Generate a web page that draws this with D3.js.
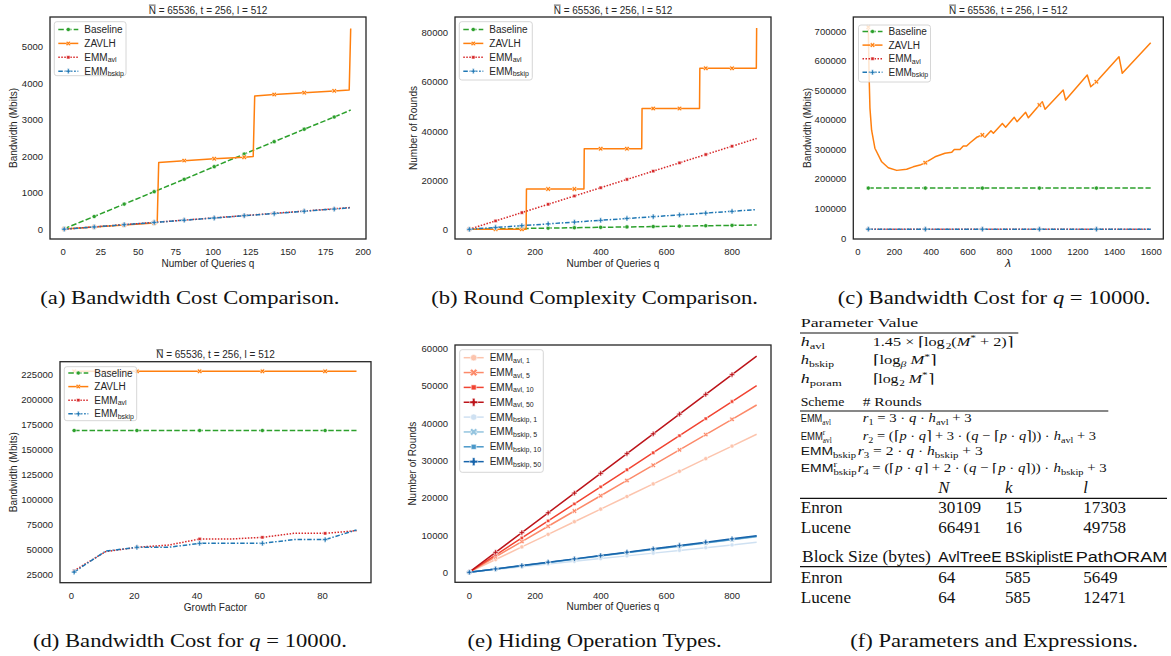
<!DOCTYPE html>
<html>
<head>
<meta charset="utf-8">
<script src="https://cdn.jsdelivr.net/npm/d3@7"></script>
<style>
  body { margin: 0; background: #fff; }
</style>
</head>
<body>
<svg id="fig" width="1171" height="656"></svg>
<script>
// ---- (a) bandwidth vs number of queries
const qA = [1, 21, 41, 61, 81, 101, 121, 141, 161, 181, 192];
const baselineA = [17, 350, 690, 1030, 1370, 1715, 2060, 2400, 2740, 3075, 3265];
const emmAvlA = [3, 65, 127, 189, 251, 313, 375, 437, 499, 561, 597];
const emmBskipA = [3, 63, 125, 186, 248, 309, 371, 432, 494, 555, 590];
const zavlhQA = [1, 21, 41, 61, 63, 64, 81, 101, 121, 127, 128, 141, 161, 181, 191, 192];
const zavlhA = [5, 60, 115, 170, 178, 1830, 1880, 1930, 1975, 1995, 3650, 3690, 3740, 3790, 3815, 5500];
const markA = [1, 21, 41, 61, 81, 101, 121, 141, 161, 181];

// ---- (b) rounds vs number of queries
const qB = [1, 81, 161, 241, 321, 401, 481, 561, 641, 721, 801, 876];
const baselineB = [2, 162, 322, 482, 642, 802, 962, 1122, 1282, 1442, 1602, 1752];
const emmAvlB = [42, 3420, 6795, 10170, 13550, 16920, 20300, 23670, 27050, 30430, 33800, 36970];
const emmBskipB = [9, 740, 1475, 2205, 2940, 3670, 4400, 5135, 5865, 6600, 7330, 8020];
const zavlhQB = [1, 81, 161, 174, 175, 241, 321, 350, 351, 401, 481, 526, 527, 561, 641, 702, 703, 721, 801, 875, 876];
const zavlhB = [0, 0, 0, 0, 16384, 16384, 16384, 16384, 32768, 32768, 32768, 32768, 49152, 49152, 49152, 49152, 65536, 65536, 65536, 65536, 81920];
const markB = [1, 81, 161, 241, 321, 401, 481, 561, 641, 721, 801];

// ---- (c) bandwidth vs lambda
const lamC = [60, 371, 682, 993, 1304, 1600];
const baselineC = [169000, 169000, 169000, 169000, 169000, 169000];
const emmAvlC = [29800, 29800, 29800, 29800, 29800, 29800];
const emmBskipC = [29800, 29800, 29800, 29800, 29800, 29800];
const lamZC = [60, 62, 64, 69, 78, 96, 133, 169, 215, 269, 305, 342, 371, 424, 478, 515, 529, 560, 578, 596,
  615, 651, 682, 696, 729, 742, 791, 809, 856, 871, 918, 933, 993, 1009, 1024, 1123, 1136, 1254, 1273, 1304,
  1427, 1445, 1600];
const zavlhC = [714000, 640000, 560000, 440000, 365000, 304000, 258000, 238000, 229000, 233000, 241000, 247000,
  255000, 275000, 287000, 290000, 300000, 300000, 311500, 311500, 322700, 341000, 349000, 341000, 363000, 354500,
  388000, 375000, 408700, 394000, 425700, 407000, 450400, 461600, 435800, 501000, 467000, 552000, 512000, 529000,
  614000, 557700, 661000];
const markC = [60, 371, 682, 993, 1304];

// ---- (d) bandwidth vs growth factor
const gfD = [1, 11, 21, 31, 41, 51, 61, 71, 81, 91];
const baselineD = [169000, 169000, 169000, 169000, 169000, 169000, 169000, 169000, 169000, 169000];
const zavlhD = [228400, 228400, 228400, 228400, 228400, 228400, 228400, 228400, 228400, 228400];
const emmAvlD = [28300, 47400, 51800, 54000, 60100, 60100, 61800, 65800, 65800, 68500];
const emmBskipD = [27000, 47900, 51800, 51800, 55800, 55800, 55800, 59500, 59500, 69200];
const markD = [1, 21, 41, 61, 81];

// ---- (e) hiding operation types
const qE = [1, 81, 161, 241, 321, 401, 481, 561, 641, 721, 801, 876];
const avl1E = [42, 3420, 6795, 10170, 13550, 16920, 20300, 23670, 27050, 30430, 33800, 36970];
const avl5E = [51, 4140, 8235, 12330, 16420, 20510, 24600, 28700, 32790, 36880, 40970, 44810];
const avl10E = [57, 4625, 9195, 13760, 18330, 22900, 27465, 32030, 36600, 41170, 45740, 50020];
const avl50E = [66, 5355, 10640, 15930, 21220, 26510, 31790, 37080, 42370, 47660, 52950, 57900];
const bskip1E = [9, 740, 1475, 2205, 2940, 3670, 4400, 5135, 5865, 6600, 7330, 8020];
const bskip5E = [11, 880, 1745, 2615, 3485, 4350, 5220, 6085, 6955, 7820, 8690, 9505];
const bskip10E = [11, 890, 1770, 2650, 3530, 4410, 5290, 6170, 7050, 7930, 8810, 9640];
const bskip50E = [11, 905, 1800, 2700, 3595, 4490, 5385, 6280, 7180, 8075, 8970, 9810];
const markE = [1, 81, 161, 241, 321, 401, 481, 561, 641, 721, 801];

// ---- tick labels
const xTicksA = [0, 25, 50, 75, 100, 125, 150, 175, 200];
const yTicksA = [0, 1000, 2000, 3000, 4000, 5000];
const xTicksB = [0, 200, 400, 600, 800];
const yTicksB = [0, 20000, 40000, 60000, 80000];
const xTicksC = [0, 200, 400, 600, 800, 1000, 1200, 1400, 1600];
const yTicksC = [0, 100000, 200000, 300000, 400000, 500000, 600000, 700000];
const xTicksD = [0, 20, 40, 60, 80];
const yTicksD = [25000, 50000, 75000, 100000, 125000, 150000, 175000, 200000, 225000];
const yTicksE = [0, 10000, 20000, 30000, 40000, 50000, 60000];

// ---- table (f) text
const paramHeader = [["Parameter Value", "rm"]];
const paramRows = [
  [[["h", "it"], ["avl", "sub"]],
   [["1.45 × ⌈log", "rm"], ["2", "sub"], ["(", "rm"], ["M", "it"], ["*", "sup"], [" + 2)⌉", "rm"]]],
  [[["h", "it"], ["bskip", "sub"]],
   [["⌈log", "rm"], ["β", "subit"], [" ", "rm"], ["M", "it"], ["*", "sup"], ["⌉", "rm"]]],
  [[["h", "it"], ["poram", "sub"]],
   [["⌈log", "rm"], ["2", "sub"], [" ", "rm"], ["M", "it"], ["*", "sup"], ["⌉", "rm"]]]
];
const schemeHeader = [[["Scheme", "rm"]], [["# Rounds", "rm"]]];
const schemeRows = [
  [[["EMM", "sf"], ["avl", "sub"]],
   [["r", "it"], ["1", "sub"], [" = 3 · ", "rm"], ["q", "it"], [" · ", "rm"], ["h", "it"], ["avl", "sub"], [" + 3", "rm"]]],
  [[["EMM", "sf"], ["r|avl", "supsub"]],
   [["r", "it"], ["2", "sub"], [" = (⌈", "rm"], ["p", "it"], [" · ", "rm"], ["q", "it"], ["⌉ + 3 · (", "rm"], ["q", "it"],
    [" − ⌈", "rm"], ["p", "it"], [" · ", "rm"], ["q", "it"], ["⌉)) · ", "rm"], ["h", "it"], ["avl", "sub"], [" + 3", "rm"]]],
  [[["EMM", "sf"], ["bskip", "sub"]],
   [["r", "it"], ["3", "sub"], [" = 2 · ", "rm"], ["q", "it"], [" · ", "rm"], ["h", "it"], ["bskip", "sub"], [" + 3", "rm"]]],
  [[["EMM", "sf"], ["r|bskip", "supsub"]],
   [["r", "it"], ["4", "sub"], [" = (⌈", "rm"], ["p", "it"], [" · ", "rm"], ["q", "it"], ["⌉ + 2 · (", "rm"], ["q", "it"],
    [" − ⌈", "rm"], ["p", "it"], [" · ", "rm"], ["q", "it"], ["⌉)) · ", "rm"], ["h", "it"], ["bskip", "sub"], [" + 3", "rm"]]]
];
const datasetHeader = ["N", "k", "l"];
const datasetRows = [["Enron", "30109", "15", "17303"], ["Lucene", "66491", "16", "49758"]];
const blockHeader = ["Block Size (bytes)", "AvlTreeE", "BSkiplistE", "PathORAM"];
const blockRows = [["Enron", "64", "585", "5649"], ["Lucene", "64", "585", "12471"]];

const captions = [
  [["(a) Bandwidth Cost Comparison.", "rm"]],
  [["(b) Round Complexity Comparison.", "rm"]],
  [["(c) Bandwidth Cost for ", "rm"], ["q", "it"], [" = 10000.", "rm"]],
  [["(d) Bandwidth Cost for ", "rm"], ["q", "it"], [" = 10000.", "rm"]],
  [["(e) Hiding Operation Types.", "rm"]],
  [["(f) Parameters and Expressions.", "rm"]]
];

// ---------------------------------------------------------------
const svg = d3.select("#fig");
const sans = "'Liberation Sans', Arial, sans-serif";
const serif = "'Liberation Serif', 'Times New Roman', serif";
const ink = "#262626";

const look = {
  Baseline: { color: "#2ca02c", dash: "5.5,2.2", marker: "circle" },
  ZAVLH: { color: "#ff7f0e", dash: null, marker: "x" },
  EMMavl: { color: "#d62728", dash: "1.5,1.5", marker: "square" },
  EMMbskip: { color: "#1f77b4", dash: "4.5,1.8,1.5,1.8", marker: "plus" }
};
const reds = ["#fcc4ad", "#fc8a6a", "#f14432", "#bc141a"];
const blues = ["#cfe1f2", "#94c4df", "#4a98c9", "#1764ab"];
const eMarkers = ["circle", "x", "square", "plus"];

function markerPath(kind, size) {
  let type = d3.symbolCircle;
  if (kind === "square") type = d3.symbolSquare;
  if (kind === "x" || kind === "plus") type = d3.symbolCross;
  let s = size;
  if (kind === "square") s = size * 0.8;
  if (kind === "x" || kind === "plus") s = size * 1.1;
  return d3.symbol(type, s)();
}

// rich text: segments laid out one by one, then stretched horizontally
function rich(parent, segs, x, y, fs, opts = {}) {
  const g = parent.append("g");
  let cx = 0;
  const place = (t, st, px) => {
    const small = st === "sub" || st === "subit" || st === "sup";
    const dy = (st === "sub" || st === "subit") ? 0.25 * fs : st === "sup" ? -0.38 * fs : 0;
    const node = g.append("text")
      .attr("x", px)
      .attr("y", dy)
      .attr("font-size", small ? fs * 0.7 : (st === "sf" ? fs * 0.92 : fs))
      .attr("font-family", (st === "sf" || opts.sans) ? sans : serif)
      .attr("font-style", (st === "it" || st === "subit") ? "italic" : "normal")
      .attr("fill", opts.fill || "#111")
      .attr("dominant-baseline", opts.central ? "central" : "auto")
      .style("white-space", "pre")
      .text(t);
    return node.node().getComputedTextLength();
  };
  segs.forEach(([t, st]) => {
    if (st === "supsub") {
      const [a, b] = t.split("|");
      cx += Math.max(place(a, "sup", cx), place(b, "sub", cx));
    } else {
      cx += place(t, st, cx);
    }
  });
  const sx = opts.w ? opts.w / cx : (opts.sx || 1);
  const tx = opts.anchor === "middle" ? x - (cx * sx) / 2 : x;
  g.attr("transform", `translate(${tx},${y}) scale(${sx},1)`);
  return { g, width: cx, sx };
}

function drawChart(cfg) {
  const [left, top, right, bottom] = cfg.frame;
  const x = d3.scaleLinear().domain(cfg.xDomain).range([left, right]);
  const y = d3.scaleLinear().domain(cfg.yDomain).range([bottom, top]);
  const g = svg.append("g");

  g.append("clipPath").attr("id", "clip-" + cfg.id)
    .append("rect").attr("x", left).attr("y", top).attr("width", right - left).attr("height", bottom - top);

  const xAxis = g.append("g")
    .attr("transform", `translate(0,${bottom})`)
    .call(d3.axisBottom(x).tickValues(cfg.xTicks).tickSize(0).tickPadding(9.5).tickFormat(d3.format("d")));
  const yAxis = g.append("g")
    .attr("transform", `translate(${left},0)`)
    .call(d3.axisLeft(y).tickValues(cfg.yTicks).tickSize(0).tickPadding(7).tickFormat(d3.format("d")));
  [xAxis, yAxis].forEach(a => {
    a.select(".domain").remove();
    a.selectAll("text").attr("font-family", sans).attr("font-size", 9.5).attr("fill", ink);
  });

  g.append("text")
    .attr("x", (left + right) / 2)
    .attr("y", bottom + 28)
    .attr("text-anchor", "middle")
    .attr("font-family", cfg.xItalic ? "'DejaVu Sans', sans-serif" : sans)
    .attr("font-style", cfg.xItalic ? "italic" : "normal")
    .attr("font-size", cfg.xItalic ? 11 : 10)
    .attr("fill", ink)
    .text(cfg.xLabel);

  g.append("text")
    .attr("transform", `translate(${cfg.yLabelX},${(top + bottom) / 2}) rotate(-90)`)
    .attr("text-anchor", "middle")
    .attr("dominant-baseline", "central")
    .attr("font-family", sans)
    .attr("font-size", 10)
    .attr("fill", ink)
    .text(cfg.yLabel);

  if (cfg.title) {
    const t = g.append("text")
      .attr("x", (left + right) / 2)
      .attr("y", top - 3.5)
      .attr("text-anchor", "middle")
      .attr("font-family", sans)
      .attr("font-size", 10)
      .attr("fill", ink)
      .text(cfg.title);
    const ext = t.node().getExtentOfChar(0);
    g.append("line")
      .attr("x1", ext.x + 0.3).attr("x2", ext.x + ext.width - 0.3)
      .attr("y1", ext.y + 0.6).attr("y2", ext.y + 0.6)
      .attr("stroke", ink).attr("stroke-width", 0.8);
  }

  const plot = g.append("g").attr("clip-path", `url(#clip-${cfg.id})`);
  const line = d3.line().x(d => x(d[0])).y(d => y(d[1]));

  cfg.series.forEach(s => {
    const pts = s.x.map((v, i) => [v, s.y[i]]);
    plot.append("path")
      .datum(pts)
      .attr("d", line)
      .attr("fill", "none")
      .attr("stroke", s.color)
      .attr("stroke-width", 1.5)
      .attr("stroke-dasharray", s.dash)
      .attr("stroke-linejoin", "round");
    plot.selectAll(null)
      .data(pts.filter(p => cfg.mark.includes(p[0])))
      .join("path")
      .attr("transform", p => `translate(${x(p[0])},${y(p[1])})` + (s.marker === "x" ? " rotate(45)" : ""))
      .attr("d", markerPath(s.marker, cfg.markSize))
      .attr("fill", s.color)
      .attr("stroke", "#fff")
      .attr("stroke-width", 0.6);
  });

  g.append("rect")
    .attr("x", left).attr("y", top)
    .attr("width", right - left).attr("height", bottom - top)
    .attr("fill", "none")
    .attr("stroke", ink)
    .attr("stroke-width", 1.3);

  // legend
  const L = cfg.legend;
  const lg = g.append("g");
  lg.append("rect")
    .attr("x", L.x).attr("y", L.y).attr("width", L.w).attr("height", L.h)
    .attr("rx", 2.5)
    .attr("fill", "#fff").attr("fill-opacity", 0.8)
    .attr("stroke", "#cccccc").attr("stroke-width", 0.8);
  cfg.series.forEach((s, i) => {
    const ry = L.row0 + i * L.dy;
    lg.append("line")
      .attr("x1", L.x + 4).attr("x2", L.x + 24)
      .attr("y1", ry).attr("y2", ry)
      .attr("stroke", s.color)
      .attr("stroke-width", 1.5)
      .attr("stroke-dasharray", s.dash);
    lg.append("path")
      .attr("transform", `translate(${L.x + 14},${ry})` + (s.marker === "x" ? " rotate(45)" : ""))
      .attr("d", markerPath(s.marker, L.markSize))
      .attr("fill", s.color)
      .attr("stroke", "#fff")
      .attr("stroke-width", 0.6);
    rich(lg, s.label, L.x + 30, ry, 10, { sans: true, central: true, fill: ink });
  });
}

const std = (xs, ys, name, label) => Object.assign({ x: xs, y: ys, label }, look[name]);
const lblBase = [["Baseline", "rm"]];
const lblZ = [["ZAVLH", "rm"]];
const lblAvl = [["EMM", "rm"], ["avl", "sub"]];
const lblBskip = [["EMM", "rm"], ["bskip", "sub"]];

drawChart({
  id: "a", frame: [50, 17, 366, 239], xDomain: [-8.47, 202.2], yDomain: [-266, 5813],
  xTicks: xTicksA, yTicks: yTicksA, xLabel: "Number of Queries q", yLabel: "Bandwidth (Mbits)",
  yLabelX: 13.3, title: "N = 65536, t = 256, l = 512", mark: markA, markSize: 14,
  series: [std(qA, baselineA, "Baseline", lblBase), std(zavlhQA, zavlhA, "ZAVLH", lblZ),
    std(qA, emmAvlA, "EMMavl", lblAvl), std(qA, emmBskipA, "EMMbskip", lblBskip)],
  legend: { x: 54.3, y: 21.7, w: 71.7, h: 54, row0: 29.5, dy: 13.9, markSize: 14 }
});

drawChart({
  id: "b", frame: [455, 17, 771, 239], xDomain: [-42.6, 919.7], yDomain: [-3947, 86388],
  xTicks: xTicksB, yTicks: yTicksB, xLabel: "Number of Queries q", yLabel: "Number of Rounds",
  yLabelX: 413, title: "N = 65536, t = 256, l = 512", mark: markB, markSize: 14,
  series: [std(qB, baselineB, "Baseline", lblBase), std(zavlhQB, zavlhB, "ZAVLH", lblZ),
    std(qB, emmAvlB, "EMMavl", lblAvl), std(qB, emmBskipB, "EMMbskip", lblBskip)],
  legend: { x: 459.3, y: 21.7, w: 73, h: 58.3, row0: 29.5, dy: 13.9, markSize: 14 }
});

drawChart({
  id: "c", frame: [853.3, 17, 1163.3, 239], xDomain: [-21.8, 1668.7], yDomain: [-3386, 748417],
  xTicks: xTicksC, yTicks: yTicksC, xLabel: "λ", xItalic: true, yLabel: "Bandwidth (Mbits)",
  yLabelX: 807.3, title: "N = 65536, t = 256, l = 512", mark: markC, markSize: 14,
  series: [std(lamC, baselineC, "Baseline", lblBase), std(lamZC, zavlhC, "ZAVLH", lblZ),
    std(lamC, emmAvlC, "EMMavl", lblAvl), std(lamC, emmBskipC, "EMMbskip", lblBskip)],
  legend: { x: 858.5, y: 25, w: 72, h: 57, row0: 31.5, dy: 13.6, markSize: 14 }
});

drawChart({
  id: "d", frame: [60, 361.7, 371, 582.7], xDomain: [-3.506, 95.62], yDomain: [16269, 238045],
  xTicks: xTicksD, yTicks: yTicksD, xLabel: "Growth Factor", yLabel: "Bandwidth (Mbits)",
  yLabelX: 13.3, title: "N = 65536, t = 256, l = 512", mark: markD, markSize: 14,
  series: [std(gfD, baselineD, "Baseline", lblBase), std(gfD, zavlhD, "ZAVLH", lblZ),
    std(gfD, emmAvlD, "EMMavl", lblAvl), std(gfD, emmBskipD, "EMMbskip", lblBskip)],
  legend: { x: 64.3, y: 366.7, w: 72.4, h: 54, row0: 373, dy: 13.6, markSize: 14 }
});

const eSeries = [avl1E, avl5E, avl10E, avl50E, bskip1E, bskip5E, bskip10E, bskip50E].map((ys, i) => ({
  x: qE, y: ys, dash: null,
  color: i < 4 ? reds[i] : blues[i - 4],
  marker: eMarkers[i % 4],
  label: [["EMM", "rm"], [(i < 4 ? "avl, " : "bskip, ") + ["1", "5", "10", "50"][i % 4], "sub"]]
}));
drawChart({
  id: "e", frame: [455, 345, 771, 582.3], xDomain: [-42.6, 919.7], yDomain: [-2679, 60884],
  xTicks: xTicksB, yTicks: yTicksE, xLabel: "Number of Queries q", yLabel: "Number of Rounds",
  yLabelX: 412.3, title: null, mark: markE, markSize: 14, series: eSeries,
  legend: { x: 459.7, y: 349.7, w: 83.6, h: 122.6, row0: 357.7, dy: 14.85, markSize: 32 }
});

// ---------------- table (f)
const tab = svg.append("g");
const rule = (x1, x2, yy) => tab.append("line")
  .attr("x1", x1).attr("x2", x2).attr("y1", yy).attr("y2", yy)
  .attr("stroke", "#111").attr("stroke-width", 1.2);

const fsT = 12.5;
rich(tab, paramHeader, 800.7, 326.5, fsT, { w: 117.6 });
rule(800, 1018.3, 333);
const paramY = [346, 364.3, 382.7];
const paramLabelW = [24.3, 33.3, 41];
const paramValW = [140.6, 64, 61.3];
paramRows.forEach((r, i) => {
  rich(tab, r[0], 800.7, paramY[i], fsT, { w: paramLabelW[i] });
  rich(tab, r[1], 872.7, paramY[i], fsT, { w: paramValW[i] });
});

rich(tab, schemeHeader[0], 800.7, 405.7, fsT, { w: 43.6 });
rich(tab, schemeHeader[1], 862.7, 405.7, fsT, { w: 59 });
rule(800, 1108.3, 411);
const schemeY = [422.3, 440, 455, 471.7];
const schemeLabelW = [30.3, 31, 55.3, 56];
const schemeValX = [862.7, 862.7, 857.7, 857.7];
const schemeValW = [109, 233.3, 125, 249];
schemeRows.forEach((r, i) => {
  rich(tab, r[0], 800.7, schemeY[i], fsT, { w: schemeLabelW[i] });
  rich(tab, r[1], schemeValX[i], schemeY[i], fsT, { w: schemeValW[i] });
});

const fsL = 16;
const colX = [800.7, 938.3, 1005, 1083.3];
datasetHeader.forEach((h, i) => rich(tab, [[h, "it"]], colX[i + 1], 492.7, fsL, { sx: 1.05 }));
rule(800, 1167, 498.3);
const dataY = [512.7, 532.7];
datasetRows.forEach((r, j) => r.forEach((c, i) => rich(tab, [[c, "rm"]], colX[i], dataY[j], fsL, { sx: 1.07 })));

const blockX = [802, 938.3, 1005, 1075.7];
const blockW = [129, 63.3, 68.3, 91.7];
blockHeader.forEach((h, i) => rich(tab, [[h, i === 0 ? "rm" : "sf"]], blockX[i], 561.7, fsL, { w: blockW[i] }));
rule(800, 1167, 566.7);
const blockY = [583.3, 603.3];
blockRows.forEach((r, j) => r.forEach((c, i) => rich(tab, [[c, "rm"]], colX[i], blockY[j], fsL, { sx: 1.07 })));

// ---------------- captions
const capCenters = [190, 594.7, 994.2];
const capBase = [303.5, 647];
const probe = rich(svg, captions[3], capCenters[0], capBase[1], 18.5, { anchor: "middle", w: 314 });
captions.forEach((c, i) => {
  if (i === 3) return;
  rich(svg, c, capCenters[i % 3], capBase[Math.floor(i / 3)], 18.5, { anchor: "middle", sx: probe.sx });
});
</script>
</body>
</html>
